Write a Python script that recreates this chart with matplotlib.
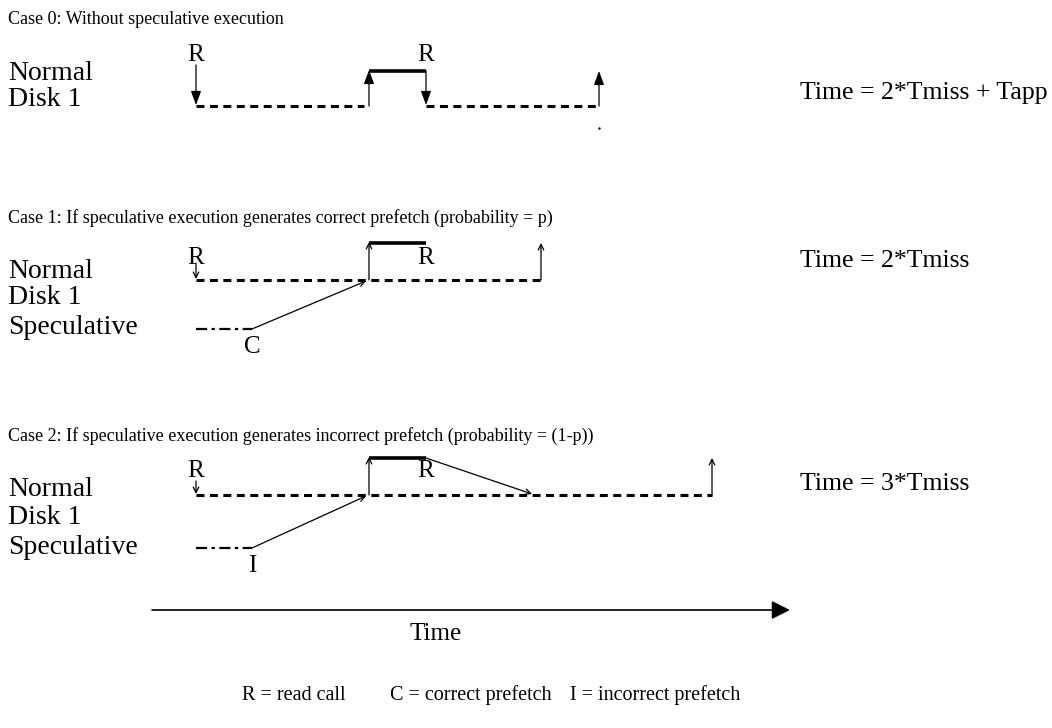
import matplotlib.pyplot as plt

plt.rcParams['font.family'] = ['Liberation Serif', 'DejaVu Serif']

# captions and labels
case_titles = [
    "Case 0: Without speculative execution",
    "Case 1: If speculative execution generates correct prefetch (probability = p)",
    "Case 2: If speculative execution generates incorrect prefetch (probability = (1-p))",
]
time_texts = ["Time = 2*Tmiss + Tapp", "Time = 2*Tmiss", "Time = 3*Tmiss"]
prefetch_labels = [None, "C", "I"]
legend_items = ["R = read call", "C = correct prefetch", "I = incorrect prefetch"]

# event times (horizontal pixel positions of the timeline)
read1_t = [196, 196, 196]        # first read call
miss_done_t = [369, 369, 369]    # first miss serviced
read2_t = [426, 426, 426]        # second read call
finish_t = [599, 541, 712]       # last miss serviced
spec_start_t = [None, 196, 196]
spec_issue_t = [None, 252, 252]  # speculative prefetch issued
wrong_land_t = [None, None, 532]  # where the re-issued read lands

# layout (rows of each case)
title_y = [20, 218, 436]
normal_y = [74, 272, 490]
disk_y = [100, 298, 517]
spec_y = [None, 328, 547]
timetext_y = [93, 261, 484]
line_y = [106, 280, 495]
app_y = [71, 243, 458]
rlabel_y = [55, 258, 471]

fig = plt.figure(figsize=(10.52, 7.28), dpi=100)
ax = fig.add_axes([0, 0, 1, 1])
ax.set_xlim(0, 1052)
ax.set_ylim(728, 0)
ax.axis('off')

def arrow(x0, y0, x1, y1, filled=False, lw=0.9):
    if filled:
        props = dict(arrowstyle='-|>,head_length=0.6,head_width=0.22', color='black',
                     lw=lw, mutation_scale=14, shrinkA=0, shrinkB=0)
    else:
        props = dict(arrowstyle='->', color='black', lw=lw, mutation_scale=10,
                     shrinkA=0, shrinkB=0)
    ax.annotate('', xy=(x1, y1), xytext=(x0, y0), arrowprops=props)

dash = dict(color='black', lw=2.2, linestyle=(0, (2.6, 1.8)))

for i in range(3):
    filled = (i == 0)
    ly = line_y[i]
    ay = app_y[i]
    ax.text(8, title_y[i], case_titles[i], fontsize=13, va='center', ha='left')
    ax.text(8, normal_y[i], "Normal", fontsize=20, va='center', ha='left')
    ax.text(8, disk_y[i], "Disk 1", fontsize=20, va='center', ha='left')
    ax.text(800, timetext_y[i], time_texts[i], fontsize=18.5, va='center', ha='left')

    # read labels
    ax.text(read1_t[i], rlabel_y[i], "R", fontsize=18, va='center', ha='center')
    ax.text(read2_t[i], rlabel_y[i], "R", fontsize=18, va='center', ha='center')

    # first read goes down to the disk
    top = rlabel_y[i] + 10 if i != 1 else rlabel_y[i] + 5
    arrow(read1_t[i], top, read1_t[i], ly - 1, filled)
    # disk miss (dashed) and return to application
    if i == 0:
        ax.plot([read1_t[i], miss_done_t[i] - 5], [ly, ly], **dash)
        ax.plot([read2_t[i], finish_t[i] - 2], [ly, ly], **dash)
        arrow(read2_t[i], ay, read2_t[i], ly - 1, filled)
    else:
        ax.plot([read1_t[i], finish_t[i]], [ly, ly], **dash)
    arrow(miss_done_t[i], ly, miss_done_t[i], ay - 1, filled)
    # application computing
    ax.plot([miss_done_t[i], read2_t[i]], [ay, ay], color='black', lw=2.6,
            solid_capstyle='butt')
    arrow(finish_t[i], ly, finish_t[i], ay, filled)

    if spec_y[i] is not None:
        sy = spec_y[i]
        ax.text(8, sy, "Speculative", fontsize=20, va='center', ha='left')
        ax.plot([spec_start_t[i], spec_issue_t[i]], [sy + 1, sy + 1], color='black',
                lw=1.6, linestyle=(0, (5, 2, 1.5, 2)))
        arrow(spec_issue_t[i], sy + 1, miss_done_t[i] - 3, ly + 1)
        ax.text(spec_issue_t[i], sy + 19, prefetch_labels[i], fontsize=18,
                va='center', ha='center')
    if wrong_land_t[i] is not None:
        arrow(read2_t[i], ay, wrong_land_t[i], ly - 1)

# stray dot below case 0
ax.plot([finish_t[0]], [128], marker='.', color='black', ms=1.5)

# time axis
ax.annotate('', xy=(790, 610), xytext=(152, 610),
            arrowprops=dict(arrowstyle='-|>', color='black', lw=1.2,
                            mutation_scale=28, shrinkA=0, shrinkB=0))
ax.text(436, 634, "Time", fontsize=18, va='center', ha='center')

for x, txt in zip([242, 390, 570], legend_items):
    ax.text(x, 695, txt, fontsize=14.5, va='center', ha='left')

fig.savefig('out.png', dpi=100)
